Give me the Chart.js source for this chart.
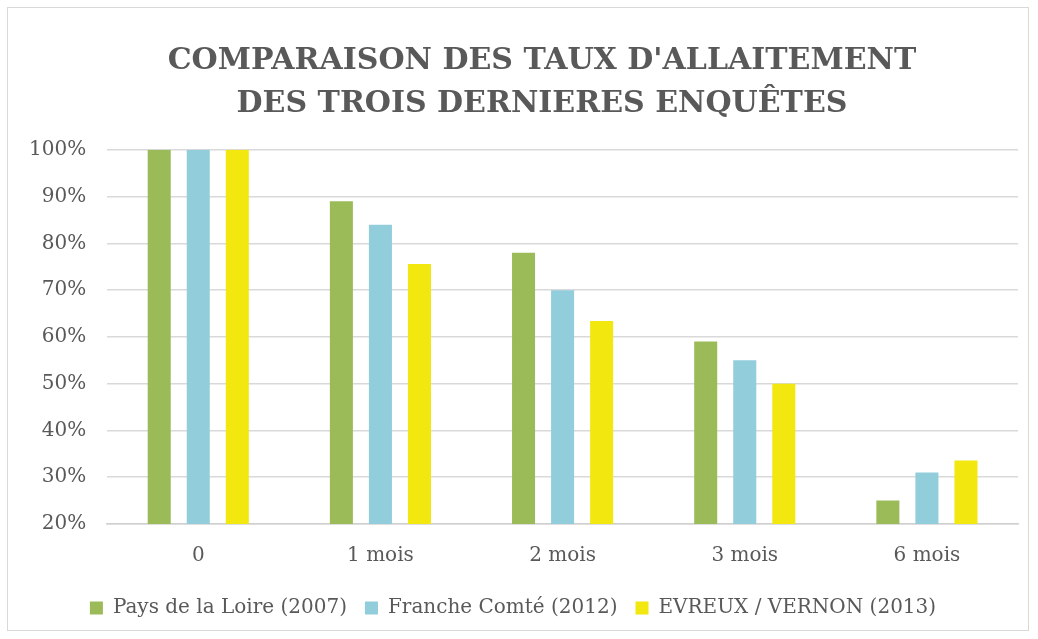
<!DOCTYPE html>
<html>
<head>
<meta charset="utf-8">
<script src="https://cdn.jsdelivr.net/npm/chart.js@4"></script>
<style>
  html, body { margin: 0; padding: 0; background: #fff; }
  #wrap { position: absolute; left: 7px; top: 7px; width: 1022px; height: 624px; border: 1px solid #d9d9d9; box-sizing: border-box; }
</style>
</head>
<body>
<div id="wrap"><canvas id="c"></canvas></div>
<script>
const categories = ['0', '1 mois', '2 mois', '3 mois', '6 mois']
const paysDeLaLoire = [100, 89, 78, 59, 25]
const francheComte = [100, 84, 70, 55, 31]
const evreuxVernon = [100, 75.6, 63.4, 50, 33.6]
const seriesNames = ['Pays de la Loire (2007)', 'Franche Comté (2012)', 'EVREUX / VERNON (2013)']
const titleLines = ["COMPARAISON DES TAUX D'ALLAITEMENT", 'DES TROIS DERNIERES ENQUÊTES']

const serif = "'DejaVu Serif', serif"
const grey = '#595959'

function makeSet(label, data, color){
  return {
    label: label,
    data: data,
    backgroundColor: color,
    borderColor: color,
    borderWidth: 0,
    categoryPercentage: 0.643,
    barPercentage: 0.59
  }
}

// excel centres the title a bit to the right of the canvas middle
const titleShift = {
  id: 'titleShift',
  afterLayout(chart){
    const t = chart.titleBlock
    if(t){
      t.left += 29
      t.right += 29
    }
  }
}

new Chart(document.getElementById('c'), {
  type: 'bar',
  data: {
    labels: categories,
    datasets: [
      makeSet(seriesNames[0], paysDeLaLoire, '#9bbb59'),
      makeSet(seriesNames[1], francheComte, '#92cddc'),
      makeSet(seriesNames[2], evreuxVernon, '#f2e70f')
    ]
  },
  plugins: [titleShift],
  options: {
    responsive: true,
    maintainAspectRatio: false,
    animation: false,
    layout: { padding: { left: 0, right: 10, top: 14, bottom: 2 } },
    plugins: {
      title: {
        display: true,
        text: titleLines,
        color: grey,
        font: { family: serif, size: 30, weight: 'bold', lineHeight: 1.43 },
        padding: { top: 18, bottom: 24 }
      },
      legend: {
        position: 'bottom',
        labels: {
          color: grey,
          font: { family: serif, size: 20 },
          boxWidth: 13,
          boxHeight: 13,
          padding: 18
        }
      },
      tooltip: { enabled: false }
    },
    scales: {
      x: {
        grid: { display: false },
        border: { color: '#d0d0d0', width: 1.5 },
        ticks: { color: grey, font: { family: serif, size: 20 }, padding: 12 }
      },
      y: {
        min: 20,
        max: 100,
        ticks: {
          stepSize: 10,
          color: grey,
          font: { family: serif, size: 20 },
          padding: 21,
          callback: v => v + '%'
        },
        grid: { color: '#d9d9d9', lineWidth: 1.5, drawTicks: false },
        border: { display: false }
      }
    }
  }
})
</script>
</body>
</html>
